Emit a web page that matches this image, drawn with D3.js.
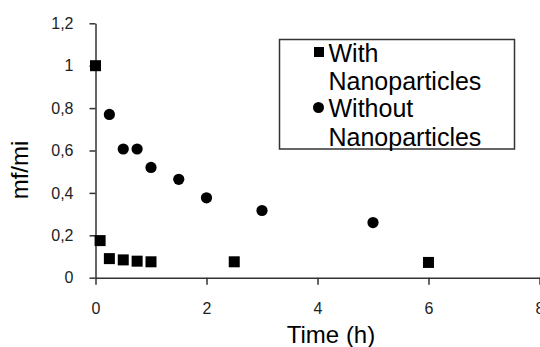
<!DOCTYPE html>
<html>
<head>
<meta charset="utf-8">
<script src="https://cdn.jsdelivr.net/npm/d3@7"></script>
<style>
  html, body { margin: 0; padding: 0; background: #fff; }
  svg { display: block; font-family: "Liberation Sans", Arial, sans-serif; }
</style>
</head>
<body>
<div id="chart"></div>
<script>
// Data
const timeWith = [0, 0.083, 0.25, 0.5, 0.75, 1, 2.5, 6];
const valueWith = [1.0, 0.175, 0.09, 0.084, 0.078, 0.075, 0.075, 0.072];
const timeWithout = [0.25, 0.5, 0.75, 1, 1.5, 2, 3, 5];
const valueWithout = [0.77, 0.607, 0.607, 0.52, 0.464, 0.377, 0.317, 0.26];
const xTicks = [0, 2, 4, 6, 8];
const yTicks = [0, 0.2, 0.4, 0.6, 0.8, 1, 1.2];
const legendLines = [["With", "Nanoparticles"], ["Without", "Nanoparticles"]];

const width = 540, height = 347;
const svg = d3.select("#chart").append("svg")
  .attr("width", width)
  .attr("height", height);

const x = d3.scaleLinear().domain([0, 8]).range([95.5, 539.5]);
const y = d3.scaleLinear().domain([0, 1.2]).range([277.7, 23.3]);

const fmt = d => d === 0 ? "0" : d3.format("~g")(d).replace(".", ",");

// Y axis
svg.append("g")
  .attr("transform", `translate(${x(0)},0)`)
  .call(d3.axisLeft(y).tickValues(yTicks).tickFormat(fmt).tickSize(6).tickPadding(16).tickSizeOuter(0))
  .call(g => g.select(".domain").attr("stroke", "#333").attr("stroke-width", 1.5))
  .call(g => g.selectAll(".tick line").attr("stroke", "#333").attr("stroke-width", 1.5))
  .call(g => g.selectAll("text").attr("font-size", 16).attr("fill", "#222")
    .style("font-family", "'Liberation Sans', Arial, sans-serif"));

// X axis
svg.append("g")
  .attr("transform", `translate(0,${y(0)})`)
  .call(d3.axisBottom(x).tickValues(xTicks).tickFormat(fmt).tickSize(7).tickPadding(18).tickSizeOuter(0))
  .call(g => g.select(".domain").attr("stroke", "#333").attr("stroke-width", 1.5))
  .call(g => g.selectAll(".tick line").attr("stroke", "#333").attr("stroke-width", 1.5))
  .call(g => g.selectAll("text").attr("font-size", 16).attr("fill", "#222")
    .style("font-family", "'Liberation Sans', Arial, sans-serif"));

// Axis titles
svg.append("text")
  .attr("x", 331).attr("y", 343)
  .attr("text-anchor", "middle")
  .attr("font-size", 24)
  .text("Time (h)");

svg.append("text")
  .attr("transform", "translate(28,170) rotate(-90)")
  .attr("text-anchor", "middle")
  .attr("font-size", 24)
  .text("mf/mi");

// Markers
const sq = 11;
svg.append("g").selectAll("rect")
  .data(timeWith.map((t, i) => [t, valueWith[i]]))
  .join("rect")
  .attr("x", d => x(d[0]) - sq / 2)
  .attr("y", d => y(d[1]) - sq / 2)
  .attr("width", sq).attr("height", sq)
  .attr("fill", "#000");

svg.append("g").selectAll("circle")
  .data(timeWithout.map((t, i) => [t, valueWithout[i]]))
  .join("circle")
  .attr("cx", d => x(d[0]))
  .attr("cy", d => y(d[1]))
  .attr("r", 5.6)
  .attr("fill", "#000");

// Legend
const legend = svg.append("g");
legend.append("rect")
  .attr("x", 279.5).attr("y", 39.5)
  .attr("width", 235).attr("height", 109.5)
  .attr("fill", "#fff")
  .attr("stroke", "#333")
  .attr("stroke-width", 1.5);

legend.append("rect")
  .attr("x", 314).attr("y", 47).attr("width", 10).attr("height", 10)
  .attr("fill", "#000");
legend.append("circle")
  .attr("cx", 318.5).attr("cy", 107.5).attr("r", 5.5)
  .attr("fill", "#000");

const baselines = [[61.7, 90], [116.7, 145.5]];
legendLines.forEach((lines, i) => {
  lines.forEach((line, j) => {
    legend.append("text")
      .attr("x", 328.5)
      .attr("y", baselines[i][j])
      .attr("font-size", 25)
      .text(line);
  });
});
</script>
</body>
</html>
